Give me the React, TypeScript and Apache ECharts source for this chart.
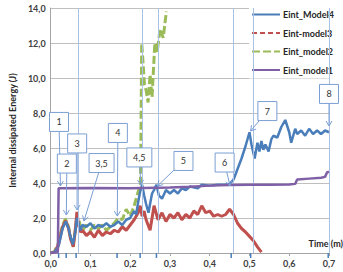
import React, { useEffect, useRef } from "react";
import * as echarts from "echarts";

const FONT = "Lato, 'Liberation Sans', sans-serif";

const xTicks = [0, 0.1, 0.2, 0.3, 0.4, 0.5, 0.6, 0.7];
const yTicks = [0, 2, 4, 6, 8, 10, 12, 14];

const seriesNames = ["Eint_Model4", "Eint-model3", "Eint_model2", "Eint_model1"];
const seriesColors = ["#4a7ebb", "#c0504d", "#9bbb59", "#7f5fa6"];

const model4: [number, number][] = [
  [0, 0], [0.01, 0.05], [0.02, 0.4], [0.03, 1.4], [0.038, 1.8], [0.045, 1.4], [0.05, 0.9], [0.056, 0.5],
  [0.062, 1.2], [0.066, 2.0], [0.07, 1.7], [0.075, 1.3], [0.08, 1.6], [0.09, 1.5], [0.1, 1.7], [0.11, 1.4],
  [0.12, 1.6], [0.13, 1.5], [0.14, 1.7], [0.15, 1.5], [0.16, 1.6], [0.17, 1.8], [0.18, 1.6], [0.19, 1.9],
  [0.2, 2.0], [0.21, 2.4], [0.215, 2.2], [0.22, 2.9], [0.225, 3.5], [0.23, 3.9], [0.235, 3.3], [0.24, 2.8],
  [0.246, 2.3], [0.25, 2.8], [0.255, 3.4], [0.26, 3.6], [0.266, 3.9], [0.272, 3.3], [0.28, 3.1], [0.29, 3.6],
  [0.3, 3.4], [0.31, 3.6], [0.32, 3.4], [0.33, 3.7], [0.34, 3.6], [0.35, 3.8], [0.37, 3.7], [0.38, 3.9],
  [0.4, 3.85], [0.42, 3.9], [0.44, 3.9], [0.45, 3.95], [0.46, 4.2], [0.47, 4.8], [0.48, 5.4], [0.49, 6.1],
  [0.5, 6.9], [0.505, 6.2], [0.513, 5.4], [0.52, 6.3], [0.525, 5.8], [0.53, 6.4], [0.535, 5.9], [0.54, 6.2],
  [0.548, 5.8], [0.555, 6.5], [0.56, 6.7], [0.57, 6.6], [0.58, 7.2], [0.59, 7.6], [0.6, 6.9], [0.605, 6.3],
  [0.61, 6.7], [0.615, 7.1], [0.62, 6.8], [0.63, 7.0], [0.64, 6.7], [0.65, 7.1], [0.66, 6.8], [0.67, 7.0],
  [0.68, 6.8], [0.69, 7.0], [0.7, 6.9],
];

const model3: [number, number][] = [
  [0, 0], [0.01, 0.05], [0.02, 0.5], [0.03, 1.5], [0.038, 1.85], [0.045, 1.4], [0.05, 0.8], [0.057, 0.35],
  [0.062, 1.3], [0.066, 2.35], [0.07, 1.6], [0.075, 1.2], [0.08, 1.3], [0.09, 1.0], [0.1, 1.2], [0.11, 0.9],
  [0.12, 1.3], [0.13, 1.0], [0.14, 1.2], [0.15, 1.1], [0.16, 1.3], [0.17, 1.2], [0.18, 1.5], [0.19, 1.3],
  [0.2, 1.6], [0.21, 1.9], [0.22, 2.3], [0.225, 2.7], [0.23, 2.1], [0.235, 2.4], [0.24, 1.9], [0.245, 1.6],
  [0.25, 1.3], [0.255, 2.0], [0.26, 2.7], [0.265, 2.3], [0.27, 1.9], [0.28, 2.3], [0.29, 1.8], [0.3, 2.2],
  [0.31, 2.0], [0.32, 2.3], [0.33, 1.9], [0.34, 2.2], [0.35, 2.0], [0.36, 2.4], [0.37, 2.2], [0.38, 2.7],
  [0.39, 2.3], [0.4, 2.4], [0.41, 2.1], [0.42, 2.2], [0.43, 2.1], [0.44, 2.2], [0.45, 2.5], [0.46, 2.2],
  [0.47, 1.7], [0.48, 1.4], [0.49, 1.2], [0.5, 0.95], [0.51, 0.7], [0.52, 0.35], [0.53, 0.05],
];

const model2: [number, number][] = [
  [0, 0], [0.01, 0.1], [0.02, 0.6], [0.03, 1.6], [0.037, 1.95], [0.045, 1.5], [0.05, 0.9], [0.056, 0.4],
  [0.06, 1.0], [0.065, 1.9], [0.07, 2.0], [0.075, 1.5], [0.08, 1.3], [0.09, 1.6], [0.1, 1.3], [0.11, 1.6],
  [0.12, 1.4], [0.13, 1.6], [0.14, 1.3], [0.15, 1.5], [0.16, 1.7], [0.17, 2.0], [0.18, 1.9], [0.19, 2.5],
  [0.2, 2.1], [0.205, 2.4], [0.21, 2.7], [0.215, 3.1], [0.22, 3.5], [0.226, 3.9], [0.229, 12.0], [0.232, 11.0],
  [0.236, 9.6], [0.24, 9.3], [0.245, 8.6], [0.25, 10.2], [0.255, 8.9], [0.262, 12.0], [0.268, 11.5],
  [0.275, 12.8], [0.283, 12.3], [0.291, 13.8],
];

const model1: [number, number][] = [
  [0, 0], [0.018, 0.05], [0.02, 3.7], [0.1, 3.72], [0.2, 3.7], [0.3, 3.74], [0.35, 3.78], [0.4, 3.85],
  [0.45, 3.88], [0.5, 3.9], [0.55, 3.9], [0.6, 3.92], [0.615, 3.95], [0.62, 4.2], [0.65, 4.25], [0.68, 4.3],
  [0.69, 4.35], [0.695, 4.6], [0.7, 4.65],
];

const guideTimes = [0.067, 0.227, 0.269, 0.456, 0.505, 0.7];
const tickTimes = [0.02, 0.039, 0.064, 0.167, 0.225, 0.266, 0.454, 0.503, 0.698];

const annLabels = ["1", "2", "3", "3,5", "4", "4,5", "5", "6", "7", "8"];
const annBox: [number, number][] = [
  [0.021, 7.49], [0.0407, 5.11], [0.0666, 6.26], [0.128, 5.14], [0.169, 6.86],
  [0.223, 5.46], [0.334, 5.26], [0.4375, 5.17], [0.545, 8.11], [0.7, 9.09],
];
const annTip: [number, number][] = [
  [0.0246, 3.83], [0.0394, 2.17], [0.0665, 2.46], [0.0838, 1.83], [0.1676, 2.11],
  [0.2267, 3.89], [0.2687, 3.83], [0.451, 3.83], [0.5028, 6.97], [0.7, 7.26],
];

const fmt = (v: number) => v.toFixed(1).replace(".", ",");

export default function App() {
  const ref = useRef<HTMLDivElement>(null);
  useEffect(() => {
    if (!ref.current) return;
    const chart = echarts.init(ref.current, undefined, { renderer: "svg" });
    const datasets = [model4, model3, model2, model1];
    const option: any = {
      animation: false,
      grid: { left: 45, right: 14, top: 8, bottom: 19 },
      legend: {
        orient: "vertical",
        left: 249,
        top: 6,
        padding: [4, 6, 4, 2],
        backgroundColor: "#ffffff",
        itemWidth: 28,
        itemHeight: 9,
        itemGap: 9.5,
        itemStyle: { opacity: 0 },
        textStyle: { fontFamily: FONT, fontSize: 9, fontWeight: "bold", color: "#262626", padding: [0, 0, 0, -2] },
        data: seriesNames.map((n, i) =>
          i === 1 ? { name: n, lineStyle: { type: [5, 3] } } : { name: n }
        ),
      },
      xAxis: {
        type: "value",
        min: xTicks[0],
        max: xTicks[xTicks.length - 1],
        interval: 0.1,
        axisLine: { lineStyle: { color: "#a6a6a6" } },
        axisTick: { show: true, length: 3, lineStyle: { color: "#a6a6a6" } },
        splitLine: { show: false },
        axisLabel: {
          fontFamily: FONT, fontSize: 9, fontWeight: "bold", color: "#404040", margin: 6,
          formatter: (v: number) => fmt(v),
        },
      },
      yAxis: {
        type: "value",
        min: yTicks[0],
        max: yTicks[yTicks.length - 1],
        interval: 2,
        name: "Internal dissipated Energy (J)",
        nameLocation: "middle",
        nameGap: 30,
        nameTextStyle: { fontFamily: FONT, fontSize: 9, fontWeight: "bold", color: "#262626" },
        axisLine: { show: true, lineStyle: { color: "#a6a6a6" } },
        axisTick: { show: false },
        splitLine: { lineStyle: { color: "#bfbfbf" } },
        axisLabel: {
          fontFamily: FONT, fontSize: 9, fontWeight: "bold", color: "#404040", margin: 5,
          formatter: (v: number) => fmt(v),
        },
      },
      series: datasets.map((d, i) => ({
        name: seriesNames[i],
        type: "line",
        data: d,
        showSymbol: false,
        symbol: "none",
        z: [4, 3, 2, 5][i],
        itemStyle: { color: seriesColors[i] },
        lineStyle: {
          color: seriesColors[i],
          width: i === 2 || i === 1 ? 3 : 2.5,
          type: i === 2 ? [8, 3] : "solid",
        },
        markLine:
          i === 3
            ? {
                silent: true,
                symbol: "none",
                label: { show: false },
                lineStyle: { color: "#a9c1e3", width: 1, type: "solid" },
                data: guideTimes.map((t) => ({ xAxis: t })),
              }
            : undefined,
      })),
    };
    chart.setOption(option);

    const g: any[] = [];
    const annColor = "#7b9fd4";
    tickTimes.forEach((t) => {
      const [x, y] = chart.convertToPixel({ gridIndex: 0 }, [t, 0]);
      g.push({ type: "line", shape: { x1: x, y1: y, x2: x, y2: y + 5 }, style: { stroke: "#4a7ebb", lineWidth: 1.5 }, z: 50 });
    });
    annLabels.forEach((lab, i) => {
      const [cx, cy] = chart.convertToPixel({ gridIndex: 0 }, annBox[i]);
      const [tx, ty] = chart.convertToPixel({ gridIndex: 0 }, annTip[i]);
      const w = lab.length > 1 ? 25 : 19;
      const h = 19;
      const dx = tx - cx;
      const dy = ty - cy;
      const s = Math.min(dx !== 0 ? w / 2 / Math.abs(dx) : Infinity, dy !== 0 ? h / 2 / Math.abs(dy) : Infinity);
      const sx = cx + dx * s;
      const sy = cy + dy * s;
      const len = Math.hypot(tx - sx, ty - sy) || 1;
      const ux = (tx - sx) / len;
      const uy = (ty - sy) / len;
      const hl = 5;
      const hw = 3;
      g.push({ type: "line", shape: { x1: sx, y1: sy, x2: tx, y2: ty }, style: { stroke: annColor, lineWidth: 1 }, z: 60 });
      g.push({
        type: "polyline",
        shape: {
          points: [
            [tx - ux * hl - uy * hw, ty - uy * hl + ux * hw],
            [tx, ty],
            [tx - ux * hl + uy * hw, ty - uy * hl - ux * hw],
          ],
        },
        style: { stroke: annColor, lineWidth: 1, fill: null },
        z: 60,
      });
      g.push({
        type: "rect",
        shape: { x: cx - w / 2, y: cy - h / 2, width: w, height: h },
        style: { fill: "#ffffff", stroke: annColor, lineWidth: 1 },
        z: 61,
      });
      g.push({
        type: "text",
        x: cx,
        y: cy,
        style: { text: lab, fontFamily: FONT, fontSize: 9, fill: "#333333", align: "center", verticalAlign: "middle" },
        z: 62,
      });
    });
    g.push({
      type: "text",
      right: 0,
      top: 239,
      style: { text: "Time (m)", fontFamily: FONT, fontSize: 9, fontWeight: "bold", fill: "#262626" },
      z: 62,
    });
    chart.setOption({ graphic: g });
    return () => chart.dispose();
  }, []);
  return <div ref={ref} style={{ width: 343, height: 272, position: "absolute", left: 0, top: 0 }} />;
}
